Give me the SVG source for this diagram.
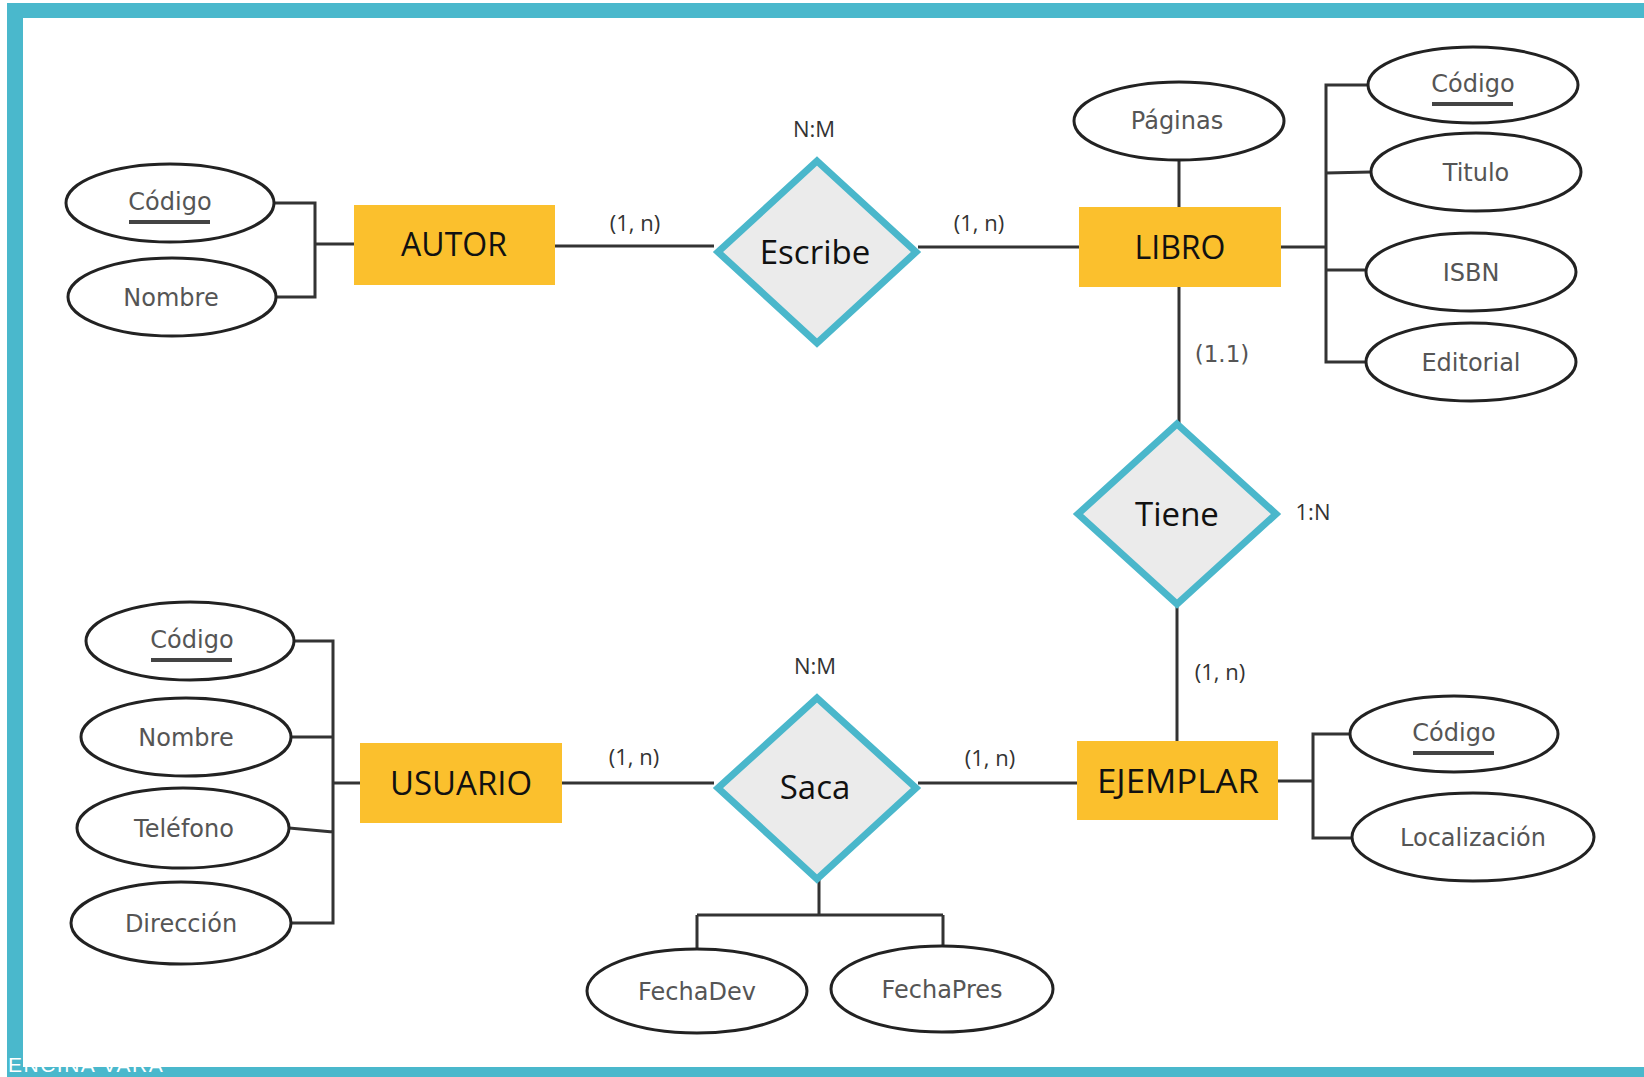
<svg xmlns="http://www.w3.org/2000/svg" width="1644" height="1077" viewBox="0 0 1644 1077">
<defs>
<style>
.frame{fill:#4ab8cc}
.ent{fill:#fbc02d}
.entt{font-family:"Open Sans","Noto Sans",sans-serif;font-size:32px;fill:#111;text-anchor:middle}
.rel{fill:#ebebeb;stroke:#4ab7cb;stroke-width:7;stroke-linejoin:miter}
.relt{font-family:"Open Sans","Noto Sans",sans-serif;font-size:33px;fill:#111;text-anchor:middle}
.att{fill:#fff;stroke:#222;stroke-width:3}
.attt{font-family:"DejaVu Sans",sans-serif;font-size:24px;fill:#555;text-anchor:middle}
.ul{stroke:#444;stroke-width:4}
.card{font-family:"Open Sans","Noto Sans",sans-serif;font-size:22px;fill:#333;text-anchor:middle}
.ln{stroke:#333;stroke-width:3;fill:none}
</style>
</defs>
<rect width="1644" height="1077" fill="#fff"/>
<rect class="frame" x="7" y="3" width="1637" height="15"/>
<rect class="frame" x="7" y="3" width="16" height="1074"/>
<rect class="frame" x="7" y="1067" width="1637" height="10"/>
<text x="8" y="1072" font-family="Liberation Sans, sans-serif" font-size="21" letter-spacing="1.5" fill="#ffffff">ENCINA VARA</text>

<g id="connectors">
<path class="ln" d="M555 246 H714"/>
<path class="ln" d="M918 247 H1079"/>
<path class="ln" d="M1179 160 V207"/>
<path class="ln" d="M1179 287 V424"/>
<path class="ln" d="M1177 604 V741"/>
<path class="ln" d="M562 783 H714"/>
<path class="ln" d="M918 783 H1077"/>
<path class="ln" d="M819 880 V915 M697 915 H943 M697 915 V949 M943 915 V946"/>
<path class="ln" d="M274 203 H315 V297 H276 M315 244 H354"/>
<path class="ln" d="M1281 247 H1326 M1368 85 H1326 V362 H1366 M1326 173 L1371 172 M1326 270 H1366"/>
<path class="ln" d="M294 641 H333 V923 H291 M289 737 H333 M289 828 L333 832 M333 783 H360"/>
<path class="ln" d="M1278 781 H1313 M1350 734 H1313 V838 H1352"/>
</g>

<g id="autor">
<rect class="ent" x="354" y="205" width="201" height="80"/>
<text class="entt" x="454" y="256">AUTOR</text>
</g>
<g id="autor-codigo">
<ellipse class="att" cx="170" cy="203" rx="104" ry="39"/>
<text class="attt" x="170" y="210">Código</text>
<line class="ul" x1="129" y1="222" x2="210" y2="222"/>
</g>
<g id="autor-nombre">
<ellipse class="att" cx="172" cy="297" rx="104" ry="39"/>
<text class="attt" x="171" y="306">Nombre</text>
</g>

<g id="escribe">
<polygon class="rel" points="817,161 916,252 817,343 718,252"/>
<text class="relt" x="815" y="264">Escribe</text>
<text class="card" x="814" y="137" font-size="20">N:M</text>
</g>
<text class="card" x="635" y="231">(1, n)</text>
<text class="card" x="979" y="231">(1, n)</text>

<g id="libro">
<rect class="ent" x="1079" y="207" width="202" height="80"/>
<text class="entt" x="1180" y="259">LIBRO</text>
</g>
<g id="libro-paginas">
<ellipse class="att" cx="1179" cy="121" rx="105" ry="39"/>
<text class="attt" x="1177" y="129">Páginas</text>
</g>
<g id="libro-codigo">
<ellipse class="att" cx="1473" cy="85" rx="105" ry="38"/>
<text class="attt" x="1473" y="92">Código</text>
<line class="ul" x1="1432" y1="104" x2="1513" y2="104"/>
</g>
<g id="libro-titulo">
<ellipse class="att" cx="1476" cy="172" rx="105" ry="39"/>
<text class="attt" x="1476" y="181">Titulo</text>
</g>
<g id="libro-isbn">
<ellipse class="att" cx="1471" cy="272" rx="105" ry="39"/>
<text class="attt" x="1471" y="281">ISBN</text>
</g>
<g id="libro-editorial">
<ellipse class="att" cx="1471" cy="362" rx="105" ry="39"/>
<text class="attt" x="1471" y="371">Editorial</text>
</g>
<text x="1222" y="362" font-family="DejaVu Sans, sans-serif" font-size="23" fill="#555" text-anchor="middle">(1.1)</text>

<g id="tiene">
<polygon class="rel" points="1177,424 1276,514 1177,604 1078,514"/>
<text class="relt" x="1177" y="526">Tiene</text>
<text class="card" x="1313" y="520" font-size="20">1:N</text>
</g>
<text class="card" x="1220" y="680">(1, n)</text>

<g id="ejemplar">
<rect class="ent" x="1077" y="741" width="201" height="79"/>
<text class="entt" x="1178" y="793" textLength="162" lengthAdjust="spacingAndGlyphs">EJEMPLAR</text>
</g>
<g id="ejemplar-codigo">
<ellipse class="att" cx="1454" cy="734" rx="104" ry="38"/>
<text class="attt" x="1454" y="741">Código</text>
<line class="ul" x1="1413" y1="753" x2="1494" y2="753"/>
</g>
<g id="ejemplar-localizacion">
<ellipse class="att" cx="1473" cy="837" rx="121" ry="44"/>
<text class="attt" x="1473" y="846">Localización</text>
</g>

<g id="saca">
<polygon class="rel" points="817,698 916,788 817,879 718,788"/>
<text class="relt" x="815" y="799">Saca</text>
<text class="card" x="815" y="674" font-size="20">N:M</text>
</g>
<text class="card" x="634" y="765">(1, n)</text>
<text class="card" x="990" y="766">(1, n)</text>
<g id="saca-fechadev">
<ellipse class="att" cx="697" cy="991" rx="110" ry="42"/>
<text class="attt" x="697" y="1000">FechaDev</text>
</g>
<g id="saca-fechapres">
<ellipse class="att" cx="942" cy="989" rx="111" ry="43"/>
<text class="attt" x="942" y="998">FechaPres</text>
</g>

<g id="usuario">
<rect class="ent" x="360" y="743" width="202" height="80"/>
<text class="entt" x="461" y="795" textLength="142" lengthAdjust="spacingAndGlyphs">USUARIO</text>
</g>
<g id="usuario-codigo">
<ellipse class="att" cx="190" cy="641" rx="104" ry="39"/>
<text class="attt" x="192" y="648">Código</text>
<line class="ul" x1="151" y1="660" x2="232" y2="660"/>
</g>
<g id="usuario-nombre">
<ellipse class="att" cx="186" cy="737" rx="105" ry="39"/>
<text class="attt" x="186" y="746">Nombre</text>
</g>
<g id="usuario-telefono">
<ellipse class="att" cx="183" cy="828" rx="106" ry="40"/>
<text class="attt" x="184" y="837">Teléfono</text>
</g>
<g id="usuario-direccion">
<ellipse class="att" cx="181" cy="923" rx="110" ry="41"/>
<text class="attt" x="181" y="932">Dirección</text>
</g>
</svg>
